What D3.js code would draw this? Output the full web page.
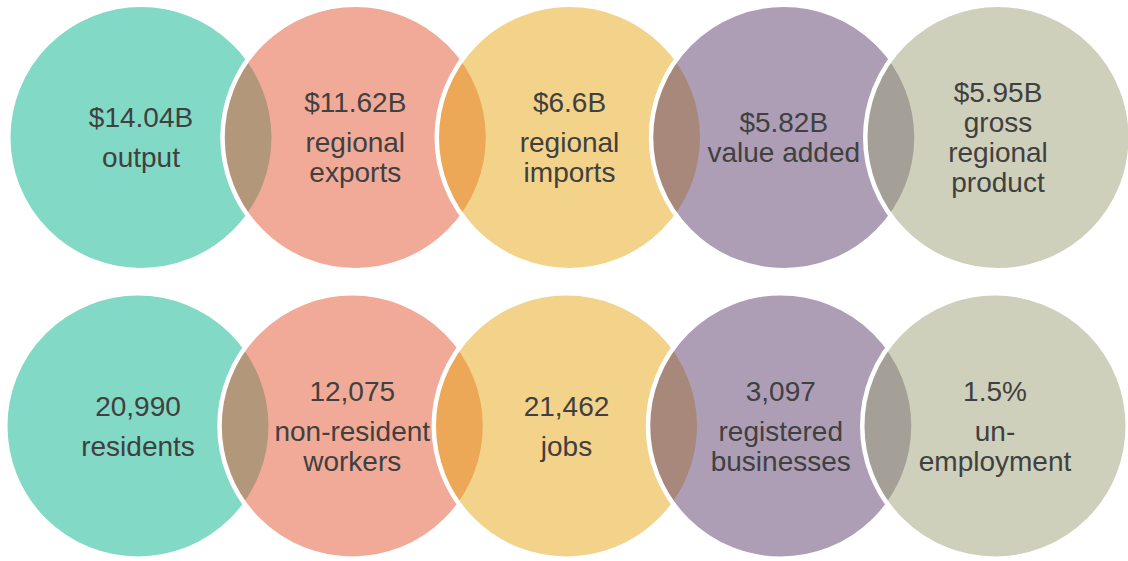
<!DOCTYPE html>
<html>
<head>
<meta charset="utf-8">
<script src="https://cdn.jsdelivr.net/npm/d3@7"></script>
<style>
  body { margin: 0; background: #fff; }
  svg { display: block; }
  text { font-family: "Liberation Sans", Arial, sans-serif; fill: #404040; }
</style>
</head>
<body>
<script>
//size of the page
const SVG_WIDTH = 1128;
const SVG_HEIGHT = 561;

//the headline numbers, top row first then bottom row
var values = ['$14.04B', '$11.62B', '$6.6B', '$5.82B', '$5.95B',
              '20,990', '12,075', '21,462', '3,097', '1.5%'];
//the label under each number, one entry per text line
var labels = [['output'], ['regional', 'exports'], ['regional', 'imports'], ['value added'], ['gross', 'regional', 'product'],
              ['residents'], ['non-resident', 'workers'], ['jobs'], ['registered', 'businesses'], ['un-', 'employment']];
//is the label a separate paragraph (extra space under the number)?
var paragraph = [true, true, true, false, false,
                 true, true, true, true, true];
//fill colour of each column (drawn half transparent so the overlaps mix)
var colors = ['#05b38b', '#e35531', '#e7a513', '#5b3e6e', '#9da277'];

//layout
var cols = 5;
var radius = 132.75;
var rowShift = [0, -3];
var lineStep = 30;
var paraStep = 40;

var svg = d3.select('body').append('svg')
    .attr('width', SVG_WIDTH)
    .attr('height', SVG_HEIGHT);

//column -> x centre, row -> y centre
var x = d3.scaleLinear()
          .domain([0, cols - 1])
          .range([141, 998]);
var y = d3.scalePoint()
          .domain([0, 1])
          .range([137.5, 426]);

var items = values.map(function(v, i) {
    var col = i % cols, row = Math.floor(i / cols);
    //vertical offset of each text line inside the block
    var lines = [v].concat(labels[i]);
    var offs = [0];
    for (var k = 1; k < lines.length; k++) {
        offs.push(offs[k - 1] + (k == 1 && paragraph[i] ? paraStep : lineStep));
    }
    var mid = offs[offs.length - 1] / 2;
    return {
        cx: x(col) + rowShift[row],
        cy: y(row),
        color: colors[col],
        lines: lines.map(function(t, k) { return {text: t, dy: offs[k] - mid}; })
    };
});

//draw the circles left to right so each one sits over the previous
svg.selectAll('circle')
   .data(items)
   .enter()
   .append('circle')
     .attr('cx', function(d) { return d.cx; })
     .attr('cy', function(d) { return d.cy; })
     .attr('r', radius)
     .attr('fill', function(d) { return d.color; })
     .attr('fill-opacity', 0.5)
     .attr('stroke', '#fff')
     .attr('stroke-width', 4.5);

//the texts go on top of all circles
svg.selectAll('g.label')
   .data(items)
   .enter()
   .append('g')
     .attr('class', 'label')
     .attr('transform', function(d) { return 'translate(' + d.cx + ',' + d.cy + ')'; })
   .selectAll('text')
   .data(function(d) { return d.lines; })
   .enter()
   .append('text')
     .attr('text-anchor', 'middle')
     .attr('y', function(d) { return d.dy; })
     .attr('dy', '0.35em')
     .attr('font-size', 28)
     .text(function(d) { return d.text; });
</script>
</body>
</html>
